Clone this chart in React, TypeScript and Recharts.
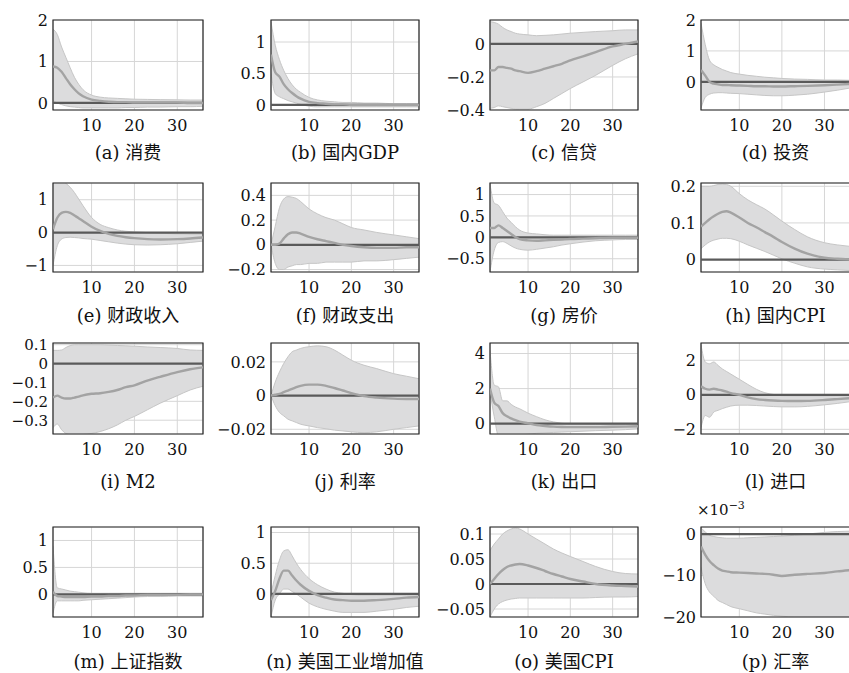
import { ComposedChart, Area, Line, XAxis, YAxis, CartesianGrid, ReferenceLine, ReferenceArea } from 'recharts'

// horizons
const horizons = [1, 2, 3, 4, 5, 6, 7, 8, 10, 12, 14, 16, 18, 20, 23, 26, 30, 33, 36]
const xTicks = [10, 20, 30]

const aHi = [1.78, 1.65, 1.35, 1.1, 0.85, 0.62, 0.45, 0.32, 0.19, 0.14, 0.12, 0.11, 0.1, 0.09, 0.085, 0.08, 0.075, 0.07, 0.07]
const aMed = [0.88, 0.85, 0.75, 0.6, 0.45, 0.33, 0.23, 0.16, 0.08, 0.05, 0.03, 0.02, 0.02, 0.01, 0.01, 0.01, 0.01, 0, 0]
const aLo = [0.06, 0, -0.04, -0.07, -0.09, -0.1, -0.11, -0.12, -0.12, -0.12, -0.12, -0.12, -0.11, -0.11, -0.1, -0.1, -0.09, -0.09, -0.08]

const bHi = [1.32, 0.95, 0.72, 0.55, 0.42, 0.32, 0.25, 0.2, 0.12, 0.08, 0.06, 0.05, 0.04, 0.04, 0.03, 0.03, 0.02, 0.02, 0.02]
const bMed = [0.8, 0.52, 0.45, 0.33, 0.25, 0.19, 0.14, 0.1, 0.05, 0.03, 0.02, 0.01, 0.01, 0, 0, 0, 0, 0, 0]
const bLo = [0.5, 0.18, 0.13, 0.1, 0.07, 0.05, 0.03, 0.01, -0.02, -0.03, -0.03, -0.03, -0.03, -0.03, -0.03, -0.03, -0.03, -0.03, -0.03]

const cHi = [0.135, 0.13, 0.12, 0.1, 0.085, 0.075, 0.065, 0.06, 0.055, 0.05, 0.052, 0.055, 0.06, 0.065, 0.07, 0.075, 0.08, 0.085, 0.085]
const cMed = [-0.16, -0.16, -0.14, -0.14, -0.145, -0.15, -0.16, -0.165, -0.175, -0.165, -0.15, -0.135, -0.12, -0.1, -0.075, -0.05, -0.015, 0, 0.015]
const cLo = [-0.39, -0.385, -0.375, -0.38, -0.385, -0.39, -0.395, -0.395, -0.395, -0.38, -0.36, -0.33, -0.3, -0.27, -0.23, -0.19, -0.13, -0.09, -0.06]

const dHi = [1.9, 1.2, 0.7, 0.55, 0.47, 0.4, 0.35, 0.3, 0.25, 0.21, 0.18, 0.15, 0.13, 0.11, 0.09, 0.08, 0.06, 0.06, 0.05]
const dMed = [0.38, 0.2, 0, -0.06, -0.08, -0.1, -0.1, -0.11, -0.12, -0.13, -0.14, -0.14, -0.15, -0.15, -0.14, -0.13, -0.11, -0.09, -0.07]
const dLo = [-0.85, -0.5, -0.4, -0.36, -0.35, -0.35, -0.36, -0.37, -0.38, -0.4, -0.42, -0.44, -0.45, -0.45, -0.43, -0.4, -0.33, -0.27, -0.2]

const eHi = [1.55, 1.6, 1.58, 1.5, 1.38, 1.22, 1.02, 0.82, 0.46, 0.25, 0.15, 0.08, 0.04, 0.02, 0, -0.02, -0.04, -0.05, -0.05]
const eMed = [0.1, 0.45, 0.6, 0.63, 0.6, 0.52, 0.44, 0.35, 0.18, 0.05, -0.04, -0.1, -0.14, -0.17, -0.2, -0.21, -0.2, -0.18, -0.15]
const eLo = [-1.0, -0.4, -0.2, -0.15, -0.14, -0.15, -0.16, -0.18, -0.2, -0.24, -0.28, -0.32, -0.35, -0.37, -0.38, -0.37, -0.34, -0.3, -0.26]

const fHi = [0, 0.15, 0.3, 0.37, 0.39, 0.385, 0.375, 0.35, 0.29, 0.25, 0.22, 0.2, 0.17, 0.14, 0.12, 0.1, 0.08, 0.065, 0.05]
const fMed = [0, 0, 0.01, 0.05, 0.085, 0.1, 0.1, 0.09, 0.065, 0.045, 0.03, 0.015, 0, -0.01, -0.02, -0.025, -0.025, -0.02, -0.02]
const fLo = [0, -0.15, -0.2, -0.2, -0.18, -0.17, -0.16, -0.16, -0.15, -0.15, -0.14, -0.14, -0.14, -0.14, -0.13, -0.13, -0.12, -0.11, -0.1]

const gHi = [1.25, 0.8, 0.75, 0.6, 0.45, 0.35, 0.25, 0.17, 0.1, 0.08, 0.06, 0.05, 0.05, 0.05, 0.05, 0.05, 0.05, 0.05, 0.05]
const gMed = [0.22, 0.22, 0.28, 0.22, 0.15, 0.08, 0.01, -0.04, -0.07, -0.08, -0.07, -0.06, -0.05, -0.04, -0.03, -0.02, -0.01, -0.01, -0.01]
const gLo = [-0.8, -0.3, -0.12, -0.1, -0.14, -0.2, -0.25, -0.28, -0.3, -0.28, -0.25, -0.22, -0.18, -0.15, -0.11, -0.08, -0.06, -0.05, -0.05]

const hHi = [0.2, 0.2, 0.2, 0.202, 0.205, 0.206, 0.205, 0.2, 0.18, 0.163, 0.15, 0.138, 0.122, 0.105, 0.082, 0.062, 0.046, 0.04, 0.036]
const hMed = [0.09, 0.1, 0.11, 0.118, 0.125, 0.13, 0.132, 0.128, 0.115, 0.1, 0.088, 0.075, 0.062, 0.048, 0.03, 0.016, 0.005, 0.002, 0]
const hLo = [0.03, 0.04, 0.048, 0.053, 0.056, 0.058, 0.058, 0.057, 0.05, 0.04, 0.031, 0.022, 0.012, 0.002, -0.01, -0.02, -0.026, -0.028, -0.03]

const iHi = [0.07, 0.07, 0.072, 0.085, 0.095, 0.1, 0.1, 0.1, 0.1, 0.1, 0.098, 0.096, 0.094, 0.092, 0.088, 0.085, 0.08, 0.072, 0.07]
const iMed = [-0.18, -0.17, -0.18, -0.185, -0.185, -0.18, -0.175, -0.168, -0.16, -0.157, -0.15, -0.14, -0.125, -0.115, -0.09, -0.07, -0.045, -0.03, -0.02]
const iLo = [-0.34, -0.32, -0.35, -0.37, -0.375, -0.375, -0.375, -0.375, -0.37, -0.36, -0.345, -0.325, -0.3, -0.28, -0.245, -0.21, -0.17, -0.14, -0.12]

const jHi = [0, 0.008, 0.014, 0.019, 0.023, 0.026, 0.027, 0.028, 0.029, 0.0295, 0.029, 0.027, 0.024, 0.021, 0.018, 0.016, 0.013, 0.0115, 0.01]
const jMed = [0, 0.0005, 0.001, 0.002, 0.003, 0.004, 0.005, 0.0058, 0.0065, 0.0065, 0.0058, 0.0045, 0.003, 0.0015, -0.0003, -0.0012, -0.0018, -0.002, -0.002]
const jLo = [0, -0.006, -0.01, -0.012, -0.014, -0.015, -0.016, -0.017, -0.018, -0.019, -0.0197, -0.0205, -0.021, -0.0215, -0.022, -0.0215, -0.02, -0.019, -0.018]

const kHi = [4.2, 2.2, 2.1, 1.3, 1.3, 1.1, 0.95, 0.85, 0.6, 0.4, 0.22, 0.1, 0.02, -0.02, -0.04, -0.05, -0.05, -0.05, -0.05]
const kMed = [2.0, 1.2, 1.0, 0.6, 0.42, 0.3, 0.2, 0.12, 0.02, -0.08, -0.13, -0.17, -0.19, -0.2, -0.2, -0.2, -0.18, -0.17, -0.15]
const kLo = [1.8, 0.4, -0.7, -0.75, -0.72, -0.7, -0.68, -0.65, -0.6, -0.55, -0.52, -0.5, -0.48, -0.46, -0.43, -0.4, -0.37, -0.34, -0.3]

const lHi = [2.9, 1.9, 1.8, 1.9, 1.7, 1.5, 1.35, 1.2, 0.9, 0.6, 0.32, 0.12, 0.02, -0.05, -0.06, -0.06, -0.06, -0.05, -0.05]
const lMed = [0.5, 0.35, 0.3, 0.35, 0.3, 0.25, 0.18, 0.1, 0, -0.15, -0.25, -0.3, -0.33, -0.35, -0.36, -0.35, -0.3, -0.25, -0.2]
const lLo = [-1.9, -1.2, -1.3, -1.0, -0.9, -0.8, -0.72, -0.65, -0.6, -0.6, -0.62, -0.65, -0.68, -0.7, -0.7, -0.67, -0.58, -0.5, -0.4]

const mHi = [0.9, 0.12, 0.1, 0.08, 0.06, 0.05, 0.04, 0.03, 0.02, 0.02, 0.02, 0.02, 0.02, 0.02, 0.02, 0.02, 0.02, 0.02, 0.02]
const mMed = [0.05, -0.03, -0.04, -0.05, -0.05, -0.05, -0.05, -0.05, -0.04, -0.04, -0.03, -0.03, -0.02, -0.02, -0.01, -0.01, -0.01, 0, 0]
const mLo = [-0.35, -0.12, -0.12, -0.12, -0.12, -0.12, -0.12, -0.11, -0.1, -0.09, -0.08, -0.07, -0.06, -0.05, -0.04, -0.04, -0.03, -0.03, -0.03]

const nHi = [0.0, 0.3, 0.55, 0.7, 0.72, 0.62, 0.5, 0.4, 0.25, 0.15, 0.08, 0.03, 0.01, -0.01, -0.02, -0.02, -0.02, -0.02, -0.02]
const nMed = [-0.1, 0.05, 0.25, 0.38, 0.38, 0.3, 0.22, 0.15, 0.05, -0.02, -0.06, -0.09, -0.1, -0.11, -0.11, -0.1, -0.08, -0.06, -0.05]
const nLo = [-0.375, -0.1, 0.0, 0.08, 0.08, 0.04, 0.0, -0.05, -0.15, -0.21, -0.25, -0.28, -0.3, -0.3, -0.3, -0.28, -0.25, -0.22, -0.2]

const oHi = [0.067, 0.08, 0.09, 0.1, 0.106, 0.11, 0.112, 0.11, 0.1, 0.09, 0.08, 0.07, 0.062, 0.055, 0.045, 0.035, 0.025, 0.021, 0.02]
const oMed = [0, 0.01, 0.02, 0.028, 0.034, 0.037, 0.039, 0.04, 0.037, 0.032, 0.026, 0.02, 0.015, 0.01, 0.005, 0, -0.003, -0.004, -0.005]
const oLo = [-0.066, -0.05, -0.04, -0.035, -0.032, -0.03, -0.029, -0.028, -0.028, -0.028, -0.028, -0.028, -0.028, -0.028, -0.028, -0.027, -0.026, -0.026, -0.025]

// panel (p) in units of 1e-3
const pHi = [1.5, 0.5, -0.3, -0.6, -0.8, -0.9, -1.0, -1.0, -1.0, -0.9, -0.8, -0.7, -0.6, -0.5, -0.3, 0, 0.4, 0.6, 0.7]
const pMed = [-3, -5, -6.5, -7.5, -8.3, -8.8, -9, -9.2, -9.3, -9.4, -9.5, -9.6, -9.8, -10.1, -9.8, -9.6, -9.4, -9, -8.7]
const pLo = [-8, -12, -14, -15, -16, -16.5, -17, -17.5, -18, -18.5, -19, -19.3, -19.6, -19.8, -20, -20, -20, -20, -20]

type Panel = {
  title: string
  row: number
  col: number
  domain: [number, number]
  yTicks: number[]
  hi: number[]
  med: number[]
  lo: number[]
  tickSize?: number
  exp?: boolean
}

const colX = [53, 271, 490, 701]
const colW = [150, 148, 148, 149]
const rowTop = [20, 183, 343, 527]
const rowBottom = [110, 272, 434, 617]
const titleY = [153, 316, 482, 662]

const panels: Panel[] = [
  { title: '(a) 消费', row: 0, col: 0, domain: [-0.17, 2], yTicks: [0, 1, 2], hi: aHi, med: aMed, lo: aLo },
  { title: '(b) 国内GDP', row: 0, col: 1, domain: [-0.08, 1.35], yTicks: [0, 0.5, 1], hi: bHi, med: bMed, lo: bLo },
  { title: '(c) 信贷', row: 0, col: 2, domain: [-0.4, 0.145], yTicks: [-0.4, -0.2, 0], hi: cHi, med: cMed, lo: cLo },
  { title: '(d) 投资', row: 0, col: 3, domain: [-0.91, 2], yTicks: [0, 1, 2], hi: dHi, med: dMed, lo: dLo },
  { title: '(e) 财政收入', row: 1, col: 0, domain: [-1.2, 1.51], yTicks: [-1, 0, 1], hi: eHi, med: eMed, lo: eLo },
  { title: '(f) 财政支出', row: 1, col: 1, domain: [-0.22, 0.5], yTicks: [-0.2, 0, 0.2, 0.4], hi: fHi, med: fMed, lo: fLo },
  { title: '(g) 房价', row: 1, col: 2, domain: [-0.81, 1.27], yTicks: [-0.5, 0, 0.5, 1], hi: gHi, med: gMed, lo: gLo },
  { title: '(h) 国内CPI', row: 1, col: 3, domain: [-0.034, 0.209], yTicks: [0, 0.1, 0.2], hi: hHi, med: hMed, lo: hLo },
  { title: '(i) M2', row: 2, col: 0, domain: [-0.373, 0.109], yTicks: [-0.3, -0.2, -0.1, 0, 0.1], hi: iHi, med: iMed, lo: iLo, tickSize: 15 },
  { title: '(j) 利率', row: 2, col: 1, domain: [-0.0228, 0.0312], yTicks: [-0.02, 0, 0.02], hi: jHi, med: jMed, lo: jLo },
  { title: '(k) 出口', row: 2, col: 2, domain: [-0.59, 4.6], yTicks: [0, 2, 4], hi: kHi, med: kMed, lo: kLo },
  { title: '(l) 进口', row: 2, col: 3, domain: [-2.27, 3.0], yTicks: [-2, 0, 2], hi: lHi, med: lMed, lo: lLo },
  { title: '(m) 上证指数', row: 3, col: 0, domain: [-0.42, 1.25], yTicks: [0, 0.5, 1], hi: mHi, med: mMed, lo: mLo },
  { title: '(n) 美国工业增加值', row: 3, col: 1, domain: [-0.375, 1.09], yTicks: [0, 0.5, 1], hi: nHi, med: nMed, lo: nLo },
  { title: '(o) 美国CPI', row: 3, col: 2, domain: [-0.066, 0.114], yTicks: [-0.05, 0, 0.05, 0.1], hi: oHi, med: oMed, lo: oLo },
  { title: '(p) 汇率', row: 3, col: 3, domain: [-20, 1.7], yTicks: [-20, -10, 0], hi: pHi, med: pMed, lo: pLo, exp: true },
]

const FONT = '"DejaVu Serif", "Noto Sans CJK SC", serif'
const YW = 60
const PAD = 12
const XH = 34

const fmt = (v: number) => (v < 0 ? '−' + String(Math.abs(v)) : String(v))

const IrfPanel = ({ p }: { p: Panel }) => {
  const data = horizons.map((h, i) => ({ h, band: [p.lo[i], p.hi[i]], med: p.med[i] }))
  const top = rowTop[p.row]
  const height = rowBottom[p.row] - top
  const width = colW[p.col]
  return (
    <div style={{ position: 'absolute', left: colX[p.col] - YW, top: top - PAD }}>
      <ComposedChart
        width={YW + width + 4}
        height={PAD + height + XH}
        data={data}
        margin={{ top: PAD, right: 4, bottom: 0, left: 0 }}
      >
        <CartesianGrid stroke="#d6d6d6" strokeWidth={1} />
        <XAxis
          dataKey="h"
          type="number"
          domain={[1, 36]}
          ticks={xTicks}
          allowDataOverflow
          axisLine={false}
          tickLine={false}
          tickSize={0}
          tickMargin={10}
          height={XH}
          tick={{ fill: '#111', fontSize: 16, fontFamily: FONT }}
        />
        <YAxis
          type="number"
          domain={p.domain}
          ticks={p.yTicks}
          allowDataOverflow
          axisLine={false}
          tickLine={false}
          tickSize={0}
          tickMargin={5}
          width={YW}
          interval={0}
          tickFormatter={fmt}
          tick={{ fill: '#111', fontSize: p.tickSize ?? 16, fontFamily: FONT }}
        />
        <Area
          dataKey="band"
          type="monotone"
          fill="#dcdcdd"
          fillOpacity={1}
          stroke="#c6c6c6"
          strokeWidth={1}
          isAnimationActive={false}
        />
        <ReferenceLine y={0} stroke="#5a5a5a" strokeWidth={2.2} />
        <Line
          dataKey="med"
          type="monotone"
          stroke="#a3a3a3"
          strokeWidth={2.4}
          dot={false}
          isAnimationActive={false}
        />
        <ReferenceArea
          x1={1}
          x2={36}
          y1={p.domain[0]}
          y2={p.domain[1]}
          fill="none"
          stroke="#262626"
          strokeWidth={1.2}
          ifOverflow="visible"
        />
      </ComposedChart>
      {p.exp && (
        <div
          style={{
            position: 'absolute',
            left: YW - 4,
            top: PAD - 28,
            fontFamily: FONT,
            fontSize: 15,
            color: '#111',
            whiteSpace: 'nowrap',
          }}
        >
          ×10<sup style={{ fontSize: 11 }}>−3</sup>
        </div>
      )}
    </div>
  )
}

export default function App() {
  return (
    <div style={{ position: 'absolute', left: 0, top: 0, width: 849, height: 673, background: '#fff', overflow: 'hidden' }}>
      {panels.map((p) => (
        <div key={p.title}>
          <IrfPanel p={p} />
          <div
            style={{
              position: 'absolute',
              left: colX[p.col] - 20,
              width: colW[p.col] + 40,
              top: titleY[p.row] - 12,
              lineHeight: '24px',
              textAlign: 'center',
              fontFamily: FONT,
              fontSize: 18,
              color: '#111',
              whiteSpace: 'nowrap',
            }}
          >
            {p.title}
          </div>
        </div>
      ))}
    </div>
  )
}
